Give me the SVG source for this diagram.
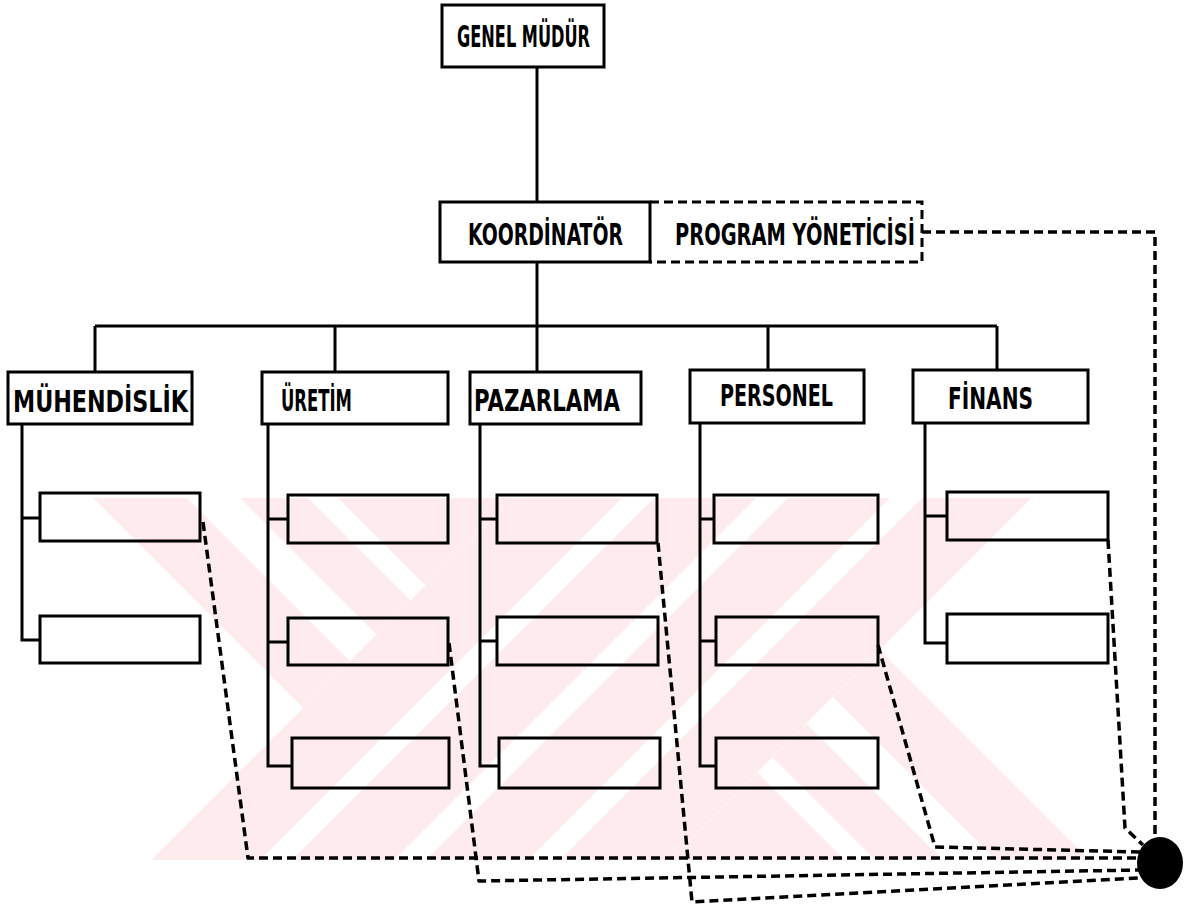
<svg xmlns="http://www.w3.org/2000/svg" width="1184" height="909" viewBox="0 0 1184 909">
  <style>
    .box { fill: none; stroke: #000; stroke-width: 3; }
    .pbox { fill: none; stroke: #000; stroke-width: 3; stroke-dasharray: 9 5; }
    .line { fill: none; stroke: #000; stroke-width: 3; }
    .dash { fill: none; stroke: #000; stroke-width: 3.5; stroke-dasharray: 9 5; stroke-linejoin: round; }
    .lbl { font-family: "DejaVu Sans Condensed", "DejaVu Sans", "Liberation Sans Narrow", sans-serif; font-stretch: condensed; font-weight: bold; font-size: 30px; fill: #000; }
    .wm { fill: #fdebee; }
    .wmgap { fill: #fff; }
  </style>
  <defs>
    <clipPath id="cutT1"><polygon points="93,498 513,498 303,708"/></clipPath>
    <clipPath id="cutM"><polygon points="513,498 1032,498 670,860 151,860"/></clipPath>
    <clipPath id="cutT2"><polygon points="670,860 880,650 1090,860"/></clipPath>
  </defs>

  <rect width="1184" height="909" fill="#fff"/>

  <!-- faint background emblem -->
  <g id="emblem">
    <g clip-path="url(#cutT1)">
      <polygon class="wm" points="93,498 513,498 303,708"/>
      <polygon class="wmgap" points="187,498 240,498 602,860 549,860"/>
      <polygon class="wmgap" points="308,498 338,498 700,860 670,860"/>
    </g>
    <g clip-path="url(#cutM)">
      <polygon class="wm" points="513,498 1032,498 670,860 151,860"/>
      <polygon class="wmgap" points="622,498 654,498 292,860 260,860"/>
      <polygon class="wmgap" points="756,498 788,498 426,860 394,860"/>
      <polygon class="wmgap" points="890,498 922,498 560,860 528,860"/>
    </g>
    <g clip-path="url(#cutT2)">
      <polygon class="wm" points="670,860 880,650 1090,860"/>
      <polygon class="wmgap" points="483,498 513,498 875,860 845,860"/>
      <polygon class="wmgap" points="581,498 634,498 996,860 943,860"/>
    </g>
  </g>

  <!-- connectors -->
  <g id="connectors">
    <!-- solid hierarchy -->
    <path class="line" d="M537,67 V202"/>
    <path class="line" d="M537,262 V326"/>
    <path class="line" d="M95,326 H997"/>
    <path class="line" d="M95,326 V372 M335,326 V372 M537,326 V372 M768,326 V370 M997,326 V370"/>
    <!-- department branches -->
    <path class="line" d="M22,424 V640 H40 M22,518 H40"/>
    <path class="line" d="M268,424 V766 H292 M268,519 H288 M268,642 H288"/>
    <path class="line" d="M480,424 V766 H499 M480,519 H497 M480,641 H497"/>
    <path class="line" d="M700,423 V766 H716 M700,519 H714 M700,641 H716"/>
    <path class="line" d="M925,423 V643 H947 M925,516 H947"/>
    <!-- dashed coordination links -->
    <path class="dash" d="M922,232 H1155 V838"/>
    <path class="dash" d="M203,522 L248,858 H1140"/>
    <path class="dash" d="M449,643 L479,881 L1140,870"/>
    <path class="dash" d="M658,543 L692,902 L1140,878"/>
    <path class="dash" d="M878,645 L935,847 L1140,852"/>
    <path class="dash" d="M1108,540 L1125,828 L1143,845"/>
  </g>

  <g id="hub">
    <ellipse cx="1160" cy="863" rx="23" ry="26" fill="#000"/>
  </g>

  <g id="genel-mudur">
    <rect class="box" x="442" y="5" width="162" height="62"/>
    <text class="lbl" x="457" y="47" textLength="133" lengthAdjust="spacingAndGlyphs">GENEL MÜDÜR</text>
  </g>

  <g id="koordinator">
    <rect class="box" x="440" y="202" width="210" height="60"/>
    <text class="lbl" x="468" y="245" textLength="155" lengthAdjust="spacingAndGlyphs">KOORDİNATÖR</text>
  </g>

  <g id="program-yoneticisi">
    <path class="pbox" d="M650,202 H922 V262 H650"/>
    <text class="lbl" x="675" y="245" textLength="240" lengthAdjust="spacingAndGlyphs">PROGRAM YÖNETİCİSİ</text>
  </g>

  <g id="muhendislik">
    <rect class="box" x="8" y="372" width="184" height="52"/>
    <text class="lbl" x="13" y="412" textLength="175" lengthAdjust="spacingAndGlyphs">MÜHENDİSLİK</text>
    <rect class="box" x="40" y="493" width="160" height="48"/>
    <rect class="box" x="40" y="616" width="160" height="47"/>
  </g>

  <g id="uretim">
    <rect class="box" x="262" y="372" width="186" height="52"/>
    <text class="lbl" x="281" y="411" textLength="71" lengthAdjust="spacingAndGlyphs">ÜRETİM</text>
    <rect class="box" x="288" y="495" width="160" height="48"/>
    <rect class="box" x="288" y="618" width="160" height="47"/>
    <rect class="box" x="292" y="738" width="157" height="50"/>
  </g>

  <g id="pazarlama">
    <rect class="box" x="470" y="372" width="171" height="52"/>
    <text class="lbl" x="474" y="411" textLength="146" lengthAdjust="spacingAndGlyphs">PAZARLAMA</text>
    <rect class="box" x="497" y="495" width="160" height="48"/>
    <rect class="box" x="497" y="617" width="161" height="48"/>
    <rect class="box" x="499" y="738" width="161" height="50"/>
  </g>

  <g id="personel">
    <rect class="box" x="690" y="370" width="174" height="53"/>
    <text class="lbl" x="720" y="406" textLength="113" lengthAdjust="spacingAndGlyphs">PERSONEL</text>
    <rect class="box" x="714" y="495" width="164" height="48"/>
    <rect class="box" x="716" y="617" width="162" height="48"/>
    <rect class="box" x="716" y="738" width="162" height="50"/>
  </g>

  <g id="finans">
    <rect class="box" x="913" y="370" width="175" height="53"/>
    <text class="lbl" x="948" y="409" textLength="85" lengthAdjust="spacingAndGlyphs">FİNANS</text>
    <rect class="box" x="947" y="492" width="161" height="48"/>
    <rect class="box" x="947" y="614" width="161" height="49"/>
  </g>
</svg>
